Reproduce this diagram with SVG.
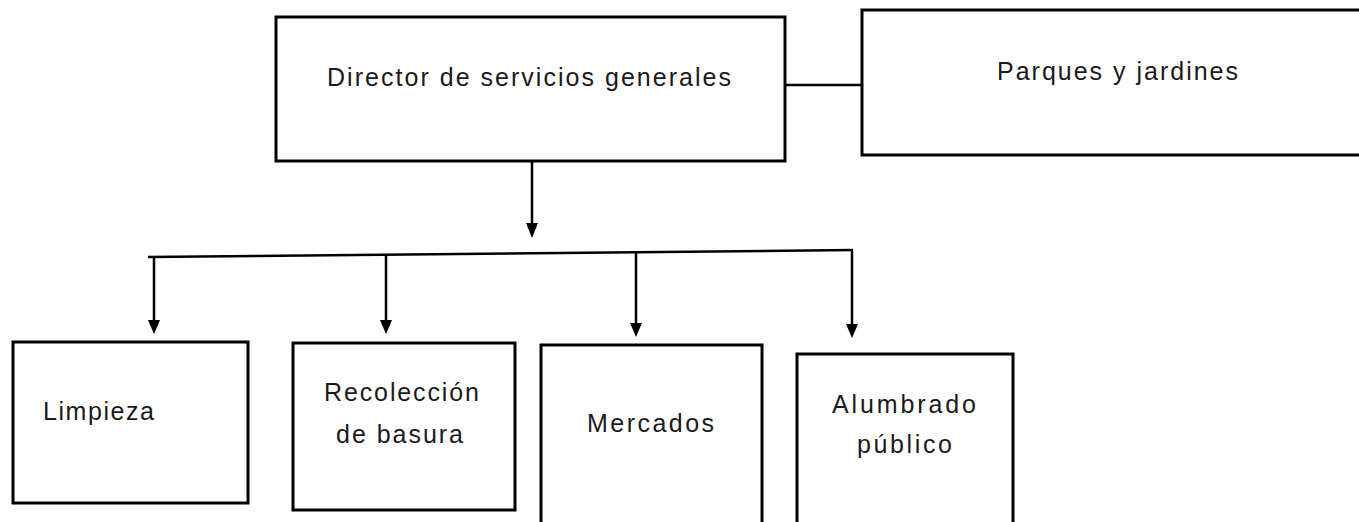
<svg xmlns="http://www.w3.org/2000/svg" width="1359" height="522" viewBox="0 0 1359 522">
<style>
.box{fill:#fff;stroke:#000;stroke-width:3}
.t{font-family:"Liberation Sans",Arial,sans-serif;font-size:25px;fill:#1a1a1a}
.c{stroke:#000;stroke-width:2.5;fill:none}
.ah{fill:#000}
</style>
<rect width="1359" height="522" fill="#fff"/>
<g id="connectors">
<line class="c" x1="785" y1="85" x2="862" y2="85"/>
<path class="c" d="M532,161 L532,223"/>
<path class="ah" d="M526,223 L538,223 L532,238 Z"/>
<line class="c" x1="148" y1="257" x2="853" y2="250"/>
<path class="c" d="M154,257 L154,320"/>
<path class="ah" d="M148,320 L160,320 L154,334 Z"/>
<path class="c" d="M386,255 L386,320"/>
<path class="ah" d="M380,320 L392,320 L386,334 Z"/>
<path class="c" d="M636,253 L636,323"/>
<path class="ah" d="M630,323 L642,323 L636,337 Z"/>
<path class="c" d="M852,251 L852,324"/>
<path class="ah" d="M846,324 L858,324 L852,338 Z"/>
</g>
<g id="director">
<rect class="box" x="276" y="17" width="509" height="144"/>
<text class="t" x="327" y="86" textLength="404" lengthAdjust="spacing">Director de servicios generales</text>
</g>
<g id="parques">
<rect class="box" x="862" y="10" width="510" height="145"/>
<text class="t" x="997" y="80" textLength="241" lengthAdjust="spacing">Parques y jardines</text>
</g>
<g id="limpieza">
<rect class="box" x="13" y="342" width="235" height="161"/>
<text class="t" x="43" y="420" textLength="111" lengthAdjust="spacing">Limpieza</text>
</g>
<g id="recoleccion">
<rect class="box" x="293" y="343" width="222" height="167"/>
<text class="t" x="324" y="401" textLength="155" lengthAdjust="spacing">Recolección</text>
<text class="t" x="336" y="443" textLength="127" lengthAdjust="spacing">de basura</text>
</g>
<g id="mercados">
<rect class="box" x="541" y="345" width="221" height="200"/>
<text class="t" x="587" y="432" textLength="127" lengthAdjust="spacing">Mercados</text>
</g>
<g id="alumbrado">
<rect class="box" x="797" y="354" width="216" height="200"/>
<text class="t" x="832" y="413" textLength="144" lengthAdjust="spacing">Alumbrado</text>
<text class="t" x="857" y="453" textLength="95" lengthAdjust="spacing">público</text>
</g>
</svg>
